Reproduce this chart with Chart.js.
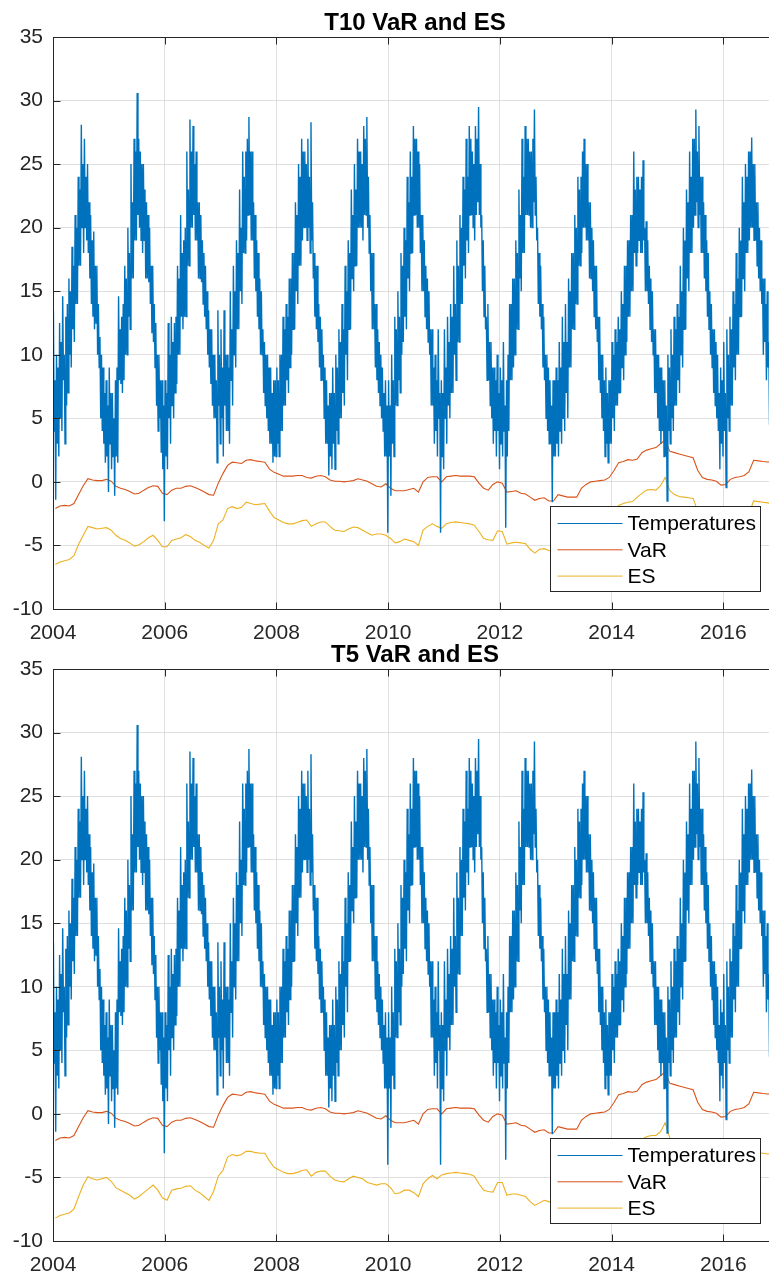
<!DOCTYPE html>
<html>
<head>
<meta charset="utf-8">
<script src="https://cdn.jsdelivr.net/npm/chart.js@4.4.1/dist/chart.umd.min.js"></script>
<style>
  html, body { margin: 0; padding: 0; background: #fff; overflow: hidden; width: 769px; height: 1275px; }
  .panel { position: absolute; left: 0; width: 790px; height: 650px; }
</style>
</head>
<body>
<div class="panel" style="top:0px"><canvas id="t10"></canvas></div>
<div class="panel" style="top:632px"><canvas id="t5"></canvas></div>
<script>
// ---- data ----
const startYear = 2004;
const xTickYears = [2004, 2006, 2008, 2010, 2012, 2014, 2016];
const yTickValues = [-10, -5, 0, 5, 10, 15, 20, 25, 30, 35];
const seriesNames = ['Temperatures', 'VaR', 'ES'];

// temperatures: high/low pair for each ~10 day stretch (72 values a year), one line per month
const temps2004 = [13.5,4,8,-1.4,10,3, 9,2,12.5,5,11,4, 14.6,8,10,3,13,6, 14,7,16,10,15,9,
  18.5,12,17,11,21,14, 20,14,24,17,23,17, 28.1,20,25,18,27,20, 24,19,25,18,22,16,
  21,14,19,13,19.7,12, 17,12.5,17,10,14,9, 11.4,5,10,4,9,3, 7,1.5,8,2,6,-0.8];
const temps2005 = [9,3,7,1,7,2, 5,-1.1,8,2,9,1.5, 14.6,8,12,7.7,13,7, 14,8,17,10,16,10,
  20,13,18,12,25,16, 22,16,27,19,26,19, 30.6,21,27,20,26,19, 25,18,25,19,23,16,
  22,16,21,15.7,20,14, 17,11.7,17,11,14,9, 12.5,6,10,4,10,5, 8,2.3,8,1,6,-3.1];
const temps2006 = [8,2,7,1,12.5,5, 10,3,13,6,11,5, 12.5,7,13,7.7,17,10, 16,10,21,13,18,12,
  19,13,20,13,26,17, 23,17,28.5,20,26,20, 28,21,25,19,26,19, 22,16,22,16,21,15.7,
  19,14,18,13,17,12, 15,10,13.5,9,12,7.7, 12,6,10,5,10,5, 8,1.5,13.5,6,10,3];
const temps2007 = [12,5,9,2,13.5,6, 10,4,10,4,9,3, 15,8,12,6,17,10, 15,9,19,12,18,12,
  23,15,20,14,26,18, 24,18,26,19,27,21, 28.7,21,26,19,26,19, 22,16,21,15,19,13,
  18,12,16,10,15,10, 12,7,11,6,10,5, 10,4,9,3,9,3, 7,1.5,8,2,8,2];
const temps2008 = [9,3,8,2,10,4, 10,4,13,6,12,6, 14,8,13,7,16,9, 16,10,18,12,18,12,
  22,15,21,14,25,17, 24,17,27,19,26,20, 26,20,25,19,27,20, 24,18,28.3,19,22,16,
  18,13,17,12,17,11, 14,9,13,8,12,8, 10,5,9,3,8,3, 6,0.5,7,2,7,1];
const temps2009 = [9,3,7,1,10,4, 9,3,12,5,11,5, 14,7,12,6,17,10, 15,8,19,12,18,12,
  23,16,21,15,25,17, 23,17,27,20,26,20, 26,20,25,19,28,21, 27,21,28.7,20,24,18,
  21,15,18,12,18,12, 14,9,14,8,12,7, 11,6,10,5,9,4, 7,2,8,2,6,-4];
const temps2010 = [8,2,6,-1.1,10,3, 8,2,13,6,12,6, 15,8,13,7,18,10, 17,11,20,13,19,12,
  24,16,22,15,26,18, 24,18,28,21,27,21, 27,20,26,20,25,18, 21,15,21,15,19,13,
  17,12,16,11,15,10, 12,6,12,6,9,3, 10,4,8,2,12,5, 7,-4,8,2,7,1];
const temps2011 = [12,5,9,3,13,6, 11,5,14,7,13,7, 17,10,14,8,19,11, 17,11,21,14,20,14,
  24,17,23,16,27,19, 24,18,28,21,27,21, 26,20,25,19,28,21, 27,22,29.5,21,25,20,
  21,15,19,13,17,12, 13,8,14,8,11,6, 11,5,9,3,9,4, 8,2,10,4,7,1];
const temps2012 = [9,3,8,2,11,4, 6,-3.6,8,2,10,4, 14,8,14,8,16,9, 16,10,19,12,18,12,
  23,16,21,15,27,18, 24,18,28,21,27,21, 27,21,26,20,26,20, 27,22,29.3,21,24,19,
  20,14,18,13,17,12, 14,9,13,8,10,5, 10,4,9,3,8,3, 6,-1.6,8,2,8,2];
const temps2013 = [9,3,8,2,11,4, 9,3,13,5,11,4, 14,7,11,5,16,9, 15,9,18,12,18,12,
  21,14,20,14,24,17, 23,17,24,18,26,20, 27,20,25,19,25,19, 22,16,22,16,20,15,
  19,13,17,12,17,11, 13,8,13,7,10,5, 10,4,8,2,9,3, 7,1.5,8,3,8,3];
const temps2014 = [11,5,10,4,12,6, 11,6,13,7,12,7, 15,9,14,8,17,10, 17,11,19,13,19,13,
  21,15,21,15,26,18, 23,17,24,18,24,19, 23,18,24,18,25.3,19, 20,15,20.5,15,19,14,
  17,12,16,11,15,10, 12,7,12,7,10,5, 10,4,9,3,9,4, 8,2,8,2,6,-1.5];
const temps2015 = [10,4,9,3,12,5, 10,4,13,6,12,6, 14,8,13,7,17,10, 15,9,20,12,19,12,
  23,16,22,15,26,18, 24,18,27,20,27,21, 29.3,22,26,20,28,21, 24,18,24,18,22,16,
  21,15,19,13,18,12, 15,10,14,9,12,7, 12,6,11,5,10,4, 7,1,9,3,8,2];
const temps2016 = [11,4,7,-0.45,12,5, 10,4,13,6,12,6, 15,9,14,8,18,10, 16,10,20,13,19,13,
  24,16,22,15,25,18, 24,18,26,19,26,20, 27.1,20,25,19,25,19, 22,17,22,16,20,15,
  19,14,16,10,16,11, 14,8,15,9,11,4.5, 11,5,9,4,9,3];
const tempYears = [temps2004, temps2005, temps2006, temps2007, temps2008, temps2009, temps2010,
                   temps2011, temps2012, temps2013, temps2014, temps2015, temps2016];

// monthly VaR (same in both panels)
const varMonthly = [
  -2.1,-1.9,-1.85,-1.9,-1.7,-1.0,-0.3,0.25,0.15,0.1,0.1,0.2,          // 2004
  0.05,-0.35,-0.5,-0.6,-0.75,-0.95,-0.9,-0.65,-0.45,-0.3,-0.35,-0.9,  // 2005
  -1.0,-0.65,-0.5,-0.5,-0.35,-0.3,-0.45,-0.6,-0.8,-1.0,-1.05,-0.1,    // 2006
  0.65,1.3,1.55,1.5,1.45,1.7,1.75,1.65,1.6,1.55,1.0,0.75,             // 2007
  0.6,0.45,0.45,0.45,0.5,0.5,0.35,0.3,0.45,0.5,0.4,0.15,              // 2008
  0.05,0.05,0.0,0.05,0.1,0.25,0.15,0.05,-0.15,-0.35,-0.4,-0.15,       // 2009
  -0.5,-0.7,-0.7,-0.7,-0.6,-0.5,-0.8,0.0,0.35,0.4,0.4,0.0,            // 2010
  0.4,0.45,0.5,0.45,0.45,0.45,0.4,-0.1,-0.5,-0.65,-0.2,0.0,           // 2011
  -0.1,-0.8,-0.75,-0.7,-0.9,-0.95,-1.2,-1.45,-1.3,-1.25,-1.5,-1.5,    // 2012
  -1.0,-1.1,-1.2,-1.2,-1.2,-0.5,-0.2,0.0,0.05,0.1,0.15,0.35,          // 2013
  0.9,1.5,1.6,1.75,1.7,1.8,2.3,2.5,2.6,2.7,3.0,3.3,                   // 2014
  2.4,2.3,2.2,2.1,2.0,1.9,0.9,0.35,0.2,0.15,0.05,-0.25,               // 2015
  -0.2,0.2,0.35,0.4,0.5,0.8,1.7,1.65,1.6,1.57,1.6                     // 2016
];

// monthly ES, T10 panel
const esT10Monthly = [
  -6.5,-6.3,-6.2,-6.1,-5.8,-4.9,-4.2,-3.5,-3.6,-3.7,-3.65,-3.6,       // 2004
  -3.8,-4.2,-4.45,-4.6,-4.8,-5.05,-4.95,-4.7,-4.4,-4.2,-4.6,-5.1,     // 2005
  -5.1,-4.6,-4.5,-4.4,-4.15,-4.3,-4.6,-4.75,-5.0,-5.2,-4.6,-3.3,      // 2006
  -3.0,-2.1,-1.95,-2.1,-2.0,-1.6,-1.7,-1.8,-1.75,-1.7,-2.3,-2.8,      // 2007
  -3.0,-3.2,-3.3,-3.3,-3.2,-3.05,-3.0,-3.5,-3.3,-3.15,-3.15,-3.5,     // 2008
  -3.8,-3.85,-3.9,-3.7,-3.55,-3.6,-3.8,-4.0,-4.2,-4.1,-4.1,-4.2,      // 2009
  -4.45,-4.8,-4.7,-4.5,-4.6,-4.7,-5.0,-3.8,-3.5,-3.3,-3.5,-3.65,      // 2010
  -3.3,-3.2,-3.15,-3.2,-3.25,-3.3,-3.4,-3.9,-4.45,-4.55,-4.6,-3.85,   // 2011
  -3.9,-4.9,-4.8,-4.75,-4.8,-4.85,-5.3,-5.6,-5.3,-5.25,-5.4,-5.5,     // 2012
  -5.0,-5.0,-5.3,-5.4,-5.3,-4.6,-4.3,-4.1,-4.0,-3.9,-3.8,-3.5,        // 2013
  -2.6,-1.85,-1.7,-1.6,-1.55,-1.2,-0.9,-0.65,-0.6,-0.65,-0.3,0.35,    // 2014
  -0.7,-1.0,-1.15,-1.2,-1.25,-1.3,-2.3,-3.0,-3.1,-3.2,-3.2,-3.5,      // 2015
  -3.6,-3.1,-2.95,-2.9,-2.85,-2.5,-1.5,-1.55,-1.6,-1.65,-1.7          // 2016
];

// monthly ES, T5 panel
const esT5Monthly = [
  -8.2,-8.0,-7.9,-7.8,-7.5,-6.5,-5.6,-4.95,-5.1,-5.2,-5.1,-5.0,       // 2004
  -5.3,-5.8,-6.0,-6.2,-6.4,-6.7,-6.5,-6.2,-5.9,-5.6,-6.0,-6.6,        // 2005
  -6.8,-6.0,-5.9,-5.85,-5.7,-5.65,-6.0,-6.2,-6.5,-6.8,-6.1,-4.9,      // 2006
  -4.45,-3.4,-3.2,-3.3,-3.2,-2.95,-2.95,-3.05,-3.1,-3.1,-3.7,-4.2,    // 2007
  -4.4,-4.6,-4.7,-4.7,-4.6,-4.45,-4.4,-4.9,-4.6,-4.5,-4.5,-4.9,       // 2008
  -5.2,-5.3,-5.35,-5.1,-4.9,-5.0,-5.1,-5.4,-5.5,-5.6,-5.5,-5.5,       // 2009
  -5.8,-6.3,-6.2,-6.0,-6.0,-6.2,-6.5,-5.5,-5.1,-4.85,-5.1,-4.8,       // 2010
  -4.7,-4.65,-4.6,-4.65,-4.7,-4.75,-4.9,-5.5,-6.0,-6.1,-6.15,-5.4,    // 2011
  -5.4,-6.4,-6.3,-6.3,-6.4,-6.5,-6.9,-7.2,-7.0,-6.8,-6.9,-7.1,        // 2012
  -6.6,-6.5,-6.8,-6.9,-6.8,-6.0,-5.6,-5.3,-5.2,-5.1,-5.0,-4.6,        // 2013
  -3.9,-3.1,-2.9,-2.8,-2.7,-2.3,-2.0,-1.8,-1.7,-1.7,-1.4,-0.7,        // 2014
  -1.9,-2.2,-2.3,-2.4,-2.5,-2.6,-3.6,-4.4,-4.5,-4.6,-4.6,-4.9,        // 2015
  -5.0,-4.5,-4.35,-4.3,-4.2,-3.8,-3.0,-3.05,-3.1,-3.15,-3.15          // 2016
];

// ---- helpers ----
function yearPoints(rows, perYear) {
  const pts = [];
  rows.forEach((vals, yi) => vals.forEach((v, i) => {
    pts.push({ x: startYear + yi + (i + 0.5) / perYear, y: v });
  }));
  return pts;
}
function monthPoints(vals) {
  return vals.map((v, i) => ({ x: startYear + (i + 0.5) / 12, y: v }));
}

const axisColor = '#262626';
const gridColor = '#dfdfdf';
Chart.defaults.font.family = '"Liberation Sans", Arial, Helvetica, sans-serif';

// box, inward tick marks and the legend, the way MATLAB draws them
const matlabAxes = {
  id: 'matlabAxes',
  afterDatasetsDraw(chart) {
    const { ctx, chartArea: a, scales: { x, y } } = chart;
    ctx.save();
    ctx.strokeStyle = axisColor;
    ctx.lineWidth = 1;
    const L = Math.round(a.left) + 0.5, T = Math.round(a.top) + 0.5;
    const R = Math.round(a.right) + 0.5, B = Math.round(a.bottom) + 0.5;
    ctx.strokeRect(L, T, R - L, B - T);
    ctx.beginPath();
    x.ticks.forEach(t => {
      const px = Math.round(x.getPixelForValue(t.value)) + 0.5;
      ctx.moveTo(px, B); ctx.lineTo(px, B - 7);
      ctx.moveTo(px, T); ctx.lineTo(px, T + 7);
    });
    y.ticks.forEach(t => {
      const py = Math.round(y.getPixelForValue(t.value)) + 0.5;
      ctx.moveTo(L, py); ctx.lineTo(L + 7, py);
      ctx.moveTo(R, py); ctx.lineTo(R - 7, py);
    });
    ctx.stroke();

    // legend box in the lower right corner
    const w = 210, h = 85;
    const bx = Math.round(a.right - 17 - w) + 0.5;
    const by = Math.round(a.bottom - 18.5 - h) + 0.5;
    ctx.fillStyle = '#fff';
    ctx.fillRect(bx, by, w, h);
    ctx.strokeRect(bx, by, w, h);
    ctx.font = '21px "Liberation Sans", Arial, sans-serif';
    ctx.textBaseline = 'middle';
    ctx.textAlign = 'left';
    chart.data.datasets.forEach((ds, i) => {
      const ry = by + 17 + i * 26.3;
      ctx.beginPath();
      ctx.strokeStyle = ds.borderColor;
      ctx.lineWidth = 1;
      ctx.moveTo(bx + 7, ry); ctx.lineTo(bx + 72, ry);
      ctx.stroke();
      ctx.fillStyle = '#000';
      ctx.fillText(ds.label, bx + 77, ry + 1);
    });
    ctx.restore();
  }
};

function makeChart(id, title, esMonthly) {
  const ctx = document.getElementById(id).getContext('2d');
  return new Chart(ctx, {
    type: 'line',
    data: {
      datasets: [{
        label: seriesNames[0],
        data: yearPoints(tempYears, 72),
        borderColor: '#0072BD',
        borderWidth: 1.4
      }, {
        label: seriesNames[1],
        data: monthPoints(varMonthly),
        borderColor: '#D95319',
        borderWidth: 1.1
      }, {
        label: seriesNames[2],
        data: monthPoints(esMonthly),
        borderColor: '#EDB120',
        borderWidth: 1.1
      }]
    },
    options: {
      responsive: true,
      maintainAspectRatio: false,
      animation: false,
      events: [],
      elements: { point: { radius: 0 }, line: { tension: 0 } },
      layout: { padding: { left: 0, right: 13, top: 0, bottom: 0 } },
      plugins: {
        legend: { display: false },
        tooltip: { enabled: false },
        title: {
          display: true,
          text: title,
          fullSize: false,
          color: '#000',
          font: { size: 24, weight: 'bold' },
          padding: { top: 8.6, bottom: -0.4 }
        }
      },
      scales: {
        x: {
          type: 'linear',
          min: 2004,
          max: 2016.96,
          afterBuildTicks: s => { s.ticks = xTickYears.map(v => ({ value: v })); },
          afterFit: s => { s.height = 41; },
          ticks: {
            callback: v => String(v),
            color: axisColor,
            font: { size: 21 },
            padding: 12,
            maxRotation: 0
          },
          grid: { color: gridColor, drawTicks: false },
          border: { display: false }
        },
        y: {
          min: -10,
          max: 35,
          afterBuildTicks: s => { s.ticks = yTickValues.map(v => ({ value: v })); },
          afterFit: s => { s.width = 53; },
          ticks: {
            color: axisColor,
            font: { size: 21 },
            padding: 10
          },
          grid: { color: gridColor, drawTicks: false },
          border: { display: false }
        }
      }
    },
    plugins: [matlabAxes]
  });
}

makeChart('t10', 'T10 VaR and ES', esT10Monthly);
makeChart('t5', 'T5 VaR and ES', esT5Monthly);
</script>
</body>
</html>
